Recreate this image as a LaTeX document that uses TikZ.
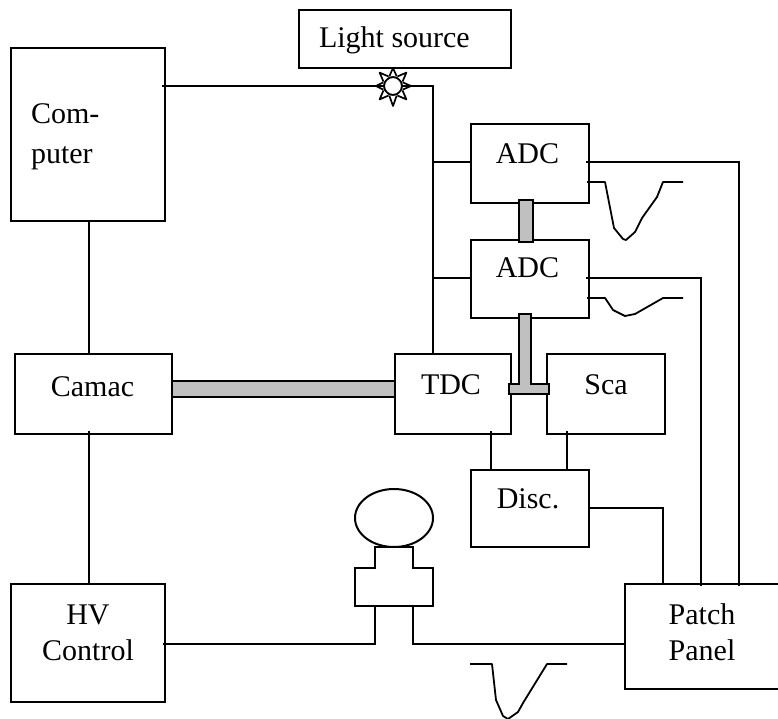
\documentclass[tikz,border=0pt]{standalone}
\usepackage{fontspec}
\usetikzlibrary{calc,shapes.geometric}
\setmainfont{Liberation Serif}
\definecolor{busgray}{HTML}{C0C0C0}
\tikzset{
  box/.style={draw=black,line width=2pt,inner sep=0pt,outer sep=0pt,fill=none},
  wire/.style={draw=black,line width=2pt,line join=miter},
  stub start/.style={shorten <=-3pt},
  stub end/.style={shorten >=-2pt},
  thin wire/.style={draw=black,line width=1.8pt,line join=round},
  bus/.style={draw=black,fill=busgray,line width=2pt},
  txt/.style={font=\fontsize{30}{36}\selectfont,inner sep=0pt,outer sep=0pt,anchor=base,align=center},
  spike/.style={draw=black,line width=1.7pt,fill=white,line join=round}
}
\begin{document}
\begin{tikzpicture}[x=1pt,y=-1pt]
\useasboundingbox (0,0) rectangle (778,719);
% boxes
\node[box,minimum width=212pt,minimum height=58pt] (light) at (405,39) {};
\node[box,minimum width=154pt,minimum height=173pt] (comp) at (88,134.5) {};
\node[box,minimum width=118pt,minimum height=79pt] (adcA) at (530,163.5) {};
\node[box,minimum width=118pt,minimum height=78pt] (adcB) at (530,279) {};
\node[box,minimum width=157pt,minimum height=80pt] (camac) at (93.5,394) {};
\node[box,minimum width=116pt,minimum height=80pt] (tdc) at (453,394) {};
\node[box,minimum width=118pt,minimum height=80pt] (sca) at (606,394) {};
\node[box,minimum width=118pt,minimum height=77pt] (disc) at (530,508.5) {};
\node[box,minimum width=154pt,minimum height=118pt] (hv) at (88,643) {};
\node[box,minimum width=156pt,minimum height=105pt] (patch) at (703,636.5) {};
% labels
\node[txt,anchor=base west] (tlight) at (319,48) {Light source};
\node[txt,align=left,anchor=base west] (tcomp) at (31,164) {Com-\\[4pt]puter};
\node[txt] (tadcA) at (527.5,164) {ADC};
\node[txt] (tadcB) at (527.5,277) {ADC};
\node[txt] (tcamac) at (92.5,396) {Camac};
\node[txt] (ttdc) at (451,394) {TDC};
\node[txt] (tsca) at (606,394) {Sca};
\node[txt] (tdisc) at (528,508) {Disc.};
\node[txt] (thv) at (88,660) {HV\\Control};
\node[txt] (tpatch) at (702,660) {Patch\\Panel};
% lamp
\node[circle,draw=black,line width=2pt,minimum size=18pt,inner sep=0pt,outer sep=0pt] (lamp) at (393,86) {};
\foreach \a/\r in {0/18,45/19,90/20,135/19,180/17,225/19,270/18,315/19}{
  \draw[spike] ($(lamp)+(\a+20:10.5)$) -- ($(lamp)+(\a:\r)$) -- ($(lamp)+(\a-20:10.5)$);
}
% junctions
\coordinate (jcc) at (89,0);
\coordinate (jl) at (433,0);
\coordinate (jtd) at (491,0);
\coordinate (jsd) at (567,0);
\coordinate (ja) at (739,0);
\coordinate (jb) at (701,0);
\coordinate (jd) at (663,0);
\coordinate (ya) at (0,162);
\coordinate (yb) at (0,278);
\coordinate (yd) at (0,508);
\coordinate (yl) at (0,86);
\coordinate (ypm) at (0,644);
% wires
\draw[wire,stub start] (comp.east |- yl) -- (lamp.west);
\draw[wire] (lamp.east) -- (jl |- yl) -- (tdc.north -| jl);
\draw[wire] (jl |- ya) -- (adcA.west |- ya);
\draw[wire] (jl |- yb) -- (adcB.west |- yb);
\draw[wire] (comp.south -| jcc) -- (camac.north -| jcc);
\draw[wire,stub start] (camac.south -| jcc) -- (hv.north -| jcc);
\draw[wire,stub start] (tdc.south -| jtd) -- (disc.north -| jtd);
\draw[wire,stub start] (sca.south -| jsd) -- (disc.north -| jsd);
\draw[wire,stub start,stub end] (adcA.east |- ya) -- (ja |- ya) -- (patch.north -| ja);
\draw[wire,stub start,stub end] (adcB.east |- yb) -- (jb |- yb) -- (patch.north -| jb);
\draw[wire] (disc.east |- yd) -- (jd |- yd) -- (patch.north -| jd);
% PMT
\node[ellipse,draw=black,line width=2pt,minimum width=78pt,minimum height=58pt,inner sep=0pt,outer sep=0pt] (tube) at (394,518) {};
\coordinate (pmtL) at (375,606);
\coordinate (pmtR) at (413,606);
\draw[wire] (375,547) -- (413,547) -- (413,568) -- (433,568) -- (433,606) -- (355,606) -- (355,568) -- (375,568) -- cycle;
\draw[wire,stub end] (pmtL) -- (pmtL |- ypm) -- (hv.east |- ypm);
\draw[wire] (pmtR) -- (pmtR |- ypm) -- (patch.west |- ypm);
% pulses
\draw[thin wire] (587,182) -- (605,182) -- (614,228) -- (623,239) -- (626,240) -- (635,232) -- (642,218) -- (657,197) -- (663,182) -- (683,182);
\draw[thin wire] (587,298) -- (605,298) -- (613,310) -- (625,316) -- (635,314) -- (663,298) -- (683,298);
\draw[thin wire] (470,664) -- (492,664) -- (496,700) -- (503,716) -- (508,719) -- (518,712) -- (523,703) -- (547,664) -- (567,664);
% buses
\path[bus] (519,200) rectangle (533,242);
\path[bus] (172,381) rectangle (395,397);
\path[bus] (519,314) -- (531,314) -- (531,384) -- (549,384) -- (549,394) -- (509,394) -- (509,384) -- (519,384) -- cycle;
\end{tikzpicture}
\end{document}
